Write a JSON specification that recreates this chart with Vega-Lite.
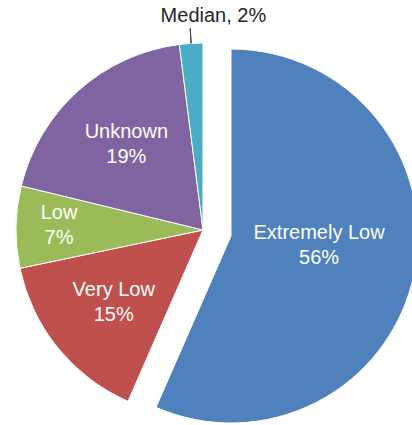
{
  "$schema": "https://vega.github.io/schema/vega-lite/v6.json",
  "autosize": {"type": "none"},
  "width": 406,
  "height": 390,
  "padding": {"top": 35, "left": 0, "right": 6, "bottom": 0},
  "background": "white",
  "config": {"view": {"stroke": null}},
  "data": {"values": [
    {"category": "Extremely Low", "value": 56, "rank": 1, "label": "Extremely Low\n56%"},
    {"category": "Very Low", "value": 15, "rank": 2, "label": "Very Low\n15%"},
    {"category": "Low", "value": 7, "rank": 3, "label": "Low\n7%"},
    {"category": "Unknown", "value": 19, "rank": 4, "label": "Unknown\n19%"},
    {"category": "Median", "value": 2, "rank": 5, "label": "Median, 2%"}
  ]},
  "encoding": {
    "theta": {"field": "value", "type": "quantitative", "stack": true},
    "order": {"field": "rank", "type": "quantitative"}
  },
  "layer": [
    {
      "mark": {"type": "arc", "outerRadius": 187, "stroke": "white", "strokeWidth": 1},
      "encoding": {
        "color": {"field": "category", "type": "nominal", "legend": null,
          "scale": {"domain": ["Extremely Low", "Very Low", "Low", "Unknown", "Median"],
                    "range": ["#4F81BD", "#C0504D", "#9BBB59", "#8064A2", "#4BACC6"]}},
        "opacity": {"condition": {"test": "datum.category === 'Extremely Low'", "value": 0}, "value": 1}
      }
    },
    {
      "mark": {"type": "arc", "outerRadius": 187, "stroke": "white", "strokeWidth": 1, "xOffset": 28, "yOffset": 6},
      "encoding": {
        "color": {"field": "category", "type": "nominal", "legend": null},
        "opacity": {"condition": {"test": "datum.category === 'Extremely Low'", "value": 1}, "value": 0}
      }
    },
    {
      "mark": {"type": "arc", "innerRadius": 187, "outerRadius": 202, "padAngle": 0.2, "fill": null, "stroke": "#404040", "strokeWidth": 1},
      "encoding": {
        "opacity": {"condition": {"test": "datum.category === 'Median'", "value": 1}, "value": 0}
      }
    },
    {
      "mark": {"type": "text", "radius": 115, "dy": -12.5, "font": "Liberation Sans", "fontSize": 20, "fill": "white", "lineBreak": "\n", "lineHeight": 25, "align": "center", "baseline": "middle"},
      "encoding": {
        "text": {"field": "label"},
        "opacity": {"condition": {"test": "datum.category === 'Unknown' || datum.category === 'Very Low'", "value": 1}, "value": 0}
      }
    },
    {
      "mark": {"type": "text", "radius": 144, "dy": -15, "font": "Liberation Sans", "fontSize": 20, "fill": "white", "lineBreak": "\n", "lineHeight": 25, "align": "center", "baseline": "middle"},
      "encoding": {
        "text": {"field": "label"},
        "opacity": {"condition": {"test": "datum.category === 'Low'", "value": 1}, "value": 0}
      }
    },
    {
      "mark": {"type": "text", "radius": 90, "xOffset": 28, "yOffset": 6, "dy": -21, "font": "Liberation Sans", "fontSize": 20, "fill": "white", "lineBreak": "\n", "lineHeight": 25, "align": "center", "baseline": "middle"},
      "encoding": {
        "text": {"field": "label"},
        "opacity": {"condition": {"test": "datum.category === 'Extremely Low'", "value": 1}, "value": 0}
      }
    },
    {
      "mark": {"type": "text", "radius": 214, "dx": 24, "font": "Liberation Sans", "fontSize": 20, "fill": "#262626", "align": "center", "baseline": "middle"},
      "encoding": {
        "text": {"field": "label"},
        "opacity": {"condition": {"test": "datum.category === 'Median'", "value": 1}, "value": 0}
      }
    }
  ]
}
